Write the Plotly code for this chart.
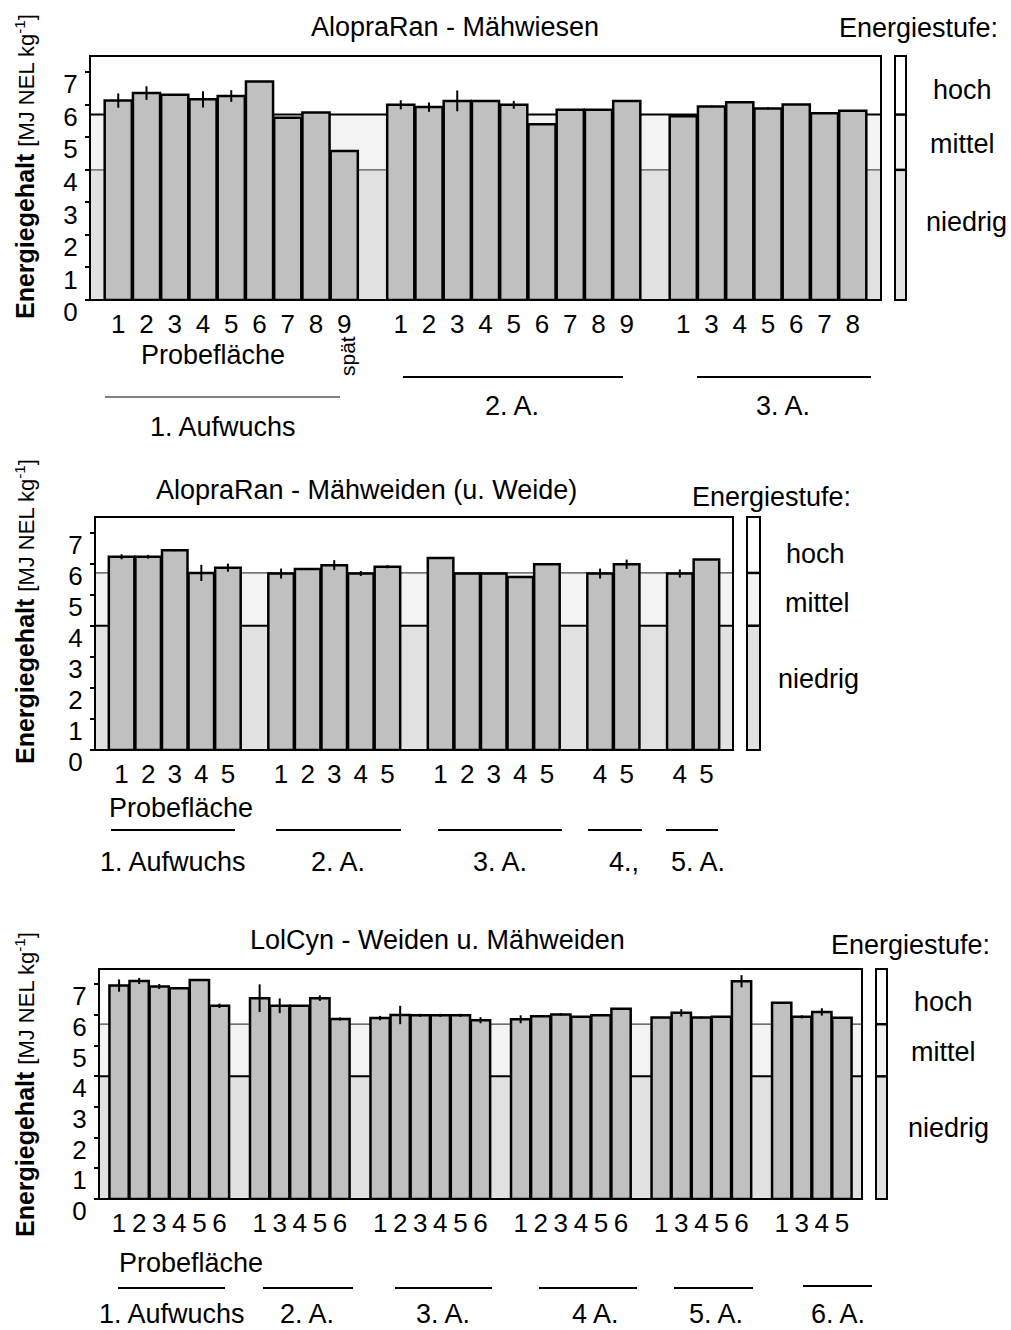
import plotly.graph_objects as go

# ---------------- data ----------------
Y_TICKS = [0, 1, 2, 3, 4, 5, 6, 7]
Y_MAX = 7.5
LEVEL_LOW = 4.0     # niedrig / mittel
LEVEL_HIGH = 5.7    # mittel / hoch

P1_TITLE = "AlopraRan - Mähwiesen"
P1_LABELS = [
    ["1", "2", "3", "4", "5", "6", "7", "8", "9"],
    ["1", "2", "3", "4", "5", "6", "7", "8", "9"],
    ["1", "3", "4", "5", "6", "7", "8"],
]
P1_VALUES = [
    [6.13, 6.36, 6.31, 6.17, 6.27, 6.72, 5.60, 5.76, 4.58],
    [6.00, 5.93, 6.12, 6.12, 6.00, 5.40, 5.85, 5.85, 6.12],
    [5.65, 5.95, 6.08, 5.89, 6.01, 5.74, 5.82],
]
P1_ERRORS = [
    [0.22, 0.21, 0.0, 0.25, 0.18, 0.0, 0.0, 0.0, 0.0],
    [0.14, 0.14, 0.32, 0.0, 0.12, 0.0, 0.0, 0.0, 0.0],
    [0.0, 0.03, 0.02, 0.04, 0.0, 0.0, 0.0],
]

P2_TITLE = "AlopraRan - Mähweiden (u. Weide)"
P2_LABELS = [
    ["1", "2", "3", "4", "5"],
    ["1", "2", "3", "4", "5"],
    ["1", "2", "3", "4", "5"],
    ["4", "5"],
    ["4", "5"],
]
P2_VALUES = [
    [6.22, 6.22, 6.43, 5.70, 5.87],
    [5.68, 5.83, 5.95, 5.68, 5.90],
    [6.18, 5.68, 5.68, 5.57, 5.98],
    [5.68, 5.98],
    [5.68, 6.13],
]
P2_ERRORS = [
    [0.08, 0.06, 0.03, 0.26, 0.13],
    [0.16, 0.0, 0.16, 0.08, 0.05],
    [0.0, 0.0, 0.0, 0.0, 0.0],
    [0.16, 0.15],
    [0.13, 0.0],
]

P3_TITLE = "LolCyn - Weiden u. Mähweiden"
P3_LABELS = [
    ["1", "2", "3", "4", "5", "6"],
    ["1", "3", "4", "5", "6"],
    ["1", "2", "3", "4", "5", "6"],
    ["1", "2", "3", "4", "5", "6"],
    ["1", "3", "4", "5", "6"],
    ["1", "3", "4", "5"],
]
P3_VALUES = [
    [6.96, 7.11, 6.93, 6.87, 7.14, 6.30],
    [6.55, 6.30, 6.30, 6.55, 5.87],
    [5.90, 6.00, 5.99, 5.99, 5.99, 5.83],
    [5.86, 5.96, 6.02, 5.94, 5.99, 6.20],
    [5.92, 6.07, 5.92, 5.94, 7.10],
    [6.40, 5.94, 6.10, 5.91],
]
P3_ERRORS = [
    [0.20, 0.10, 0.08, 0.0, 0.0, 0.07],
    [0.45, 0.24, 0.0, 0.09, 0.05],
    [0.07, 0.30, 0.05, 0.05, 0.05, 0.10],
    [0.13, 0.0, 0.04, 0.0, 0.0, 0.0],
    [0.0, 0.12, 0.03, 0.0, 0.20],
    [0.0, 0.05, 0.12, 0.0],
]

LEVEL_NAMES = ["hoch", "mittel", "niedrig"]
LEGEND_TITLE = "Energiestufe:"
Y_TITLE = "<b>Energiegehalt</b> <span style='font-size:22px'>[MJ NEL kg<sup>-1</sup>]</span>"

# ---------------- layout helpers ----------------
W, H = 1011, 1330
FONT = "Liberation Sans, Arial, sans-serif"
FS = 26      # tick labels
FT = 27      # annotation texts


def px(x):
    return x / W


def py(y):
    return 1 - y / H


def positions(groups):
    xs, idx = [], 0
    for g in groups:
        for _ in g:
            xs.append(idx)
            idx += 1
        idx += 1
    return xs


def flat(groups):
    return [v for g in groups for v in g]


PANELS = [
    dict(labels=P1_LABELS, values=P1_VALUES, errors=P1_ERRORS, title=P1_TITLE,
         box=(90, 881, 56, 300), legbar=(895, 906),
         title_pos=(455, 27), leg_title=(918, 28),
         leg_text=[(962, 90), (962, 144), (966, 222)],
         ytitle=(25, 167), line_low=(1.2, "#555"), line_high=(2, "black"),
         extra_text=[("Probefläche", 213, 355, 0, FT), ("spät", 347, 356, -90, 21),
                     ("1. Aufwuchs", 223, 427, 0, FT), ("2. A.", 512, 406, 0, FT),
                     ("3. A.", 783, 406, 0, FT)],
         bottom_text=[],
         brackets=[(105, 340, 397, 1.2), (403, 623, 377, 2), (697, 871, 377, 2)]),
    dict(labels=P2_LABELS, values=P2_VALUES, errors=P2_ERRORS, title=P2_TITLE,
         box=(95, 733, 517, 750), legbar=(747, 760),
         title_pos=(366, 490), leg_title=(771, 497),
         leg_text=[(815, 554), (817, 603), (818, 679)],
         ytitle=(25, 612), line_low=(2, "black"), line_high=(1.2, "#444"),
         extra_text=[("Probefläche", 181, 808, 0, FT), ("1. Aufwuchs", 173, 862, 0, FT),
                     ("2. A.", 338, 862, 0, FT), ("3. A.", 500, 862, 0, FT),
                     ("4.,", 624, 862, 0, FT), ("5. A.", 698, 862, 0, FT)],
         bottom_text=[],
         brackets=[(111, 235, 830, 2), (276, 401, 830, 2), (438, 562, 830, 2),
                   (588, 642, 830, 2), (666, 718, 830, 2)]),
    dict(labels=P3_LABELS, values=P3_VALUES, errors=P3_ERRORS, title=P3_TITLE,
         box=(99, 862, 969, 1199), legbar=(876, 887),
         title_pos=(437, 940), leg_title=(910, 945),
         leg_text=[(943, 1002), (943, 1052), (948, 1128)],
         ytitle=(25, 1085), line_low=(2, "black"), line_high=(1.2, "#444"),
         extra_text=[("Probefläche", 191, 1263, 0, FT)],
         bottom_text=[("1. Aufwuchs", 172), ("2. A.", 307), ("3. A.", 443),
                      ("4 A.", 595), ("5. A.", 716), ("6. A.", 838)],
         brackets=[(118, 225, 1288, 2), (263, 353, 1288, 2), (395, 492, 1288, 2),
                   (539, 637, 1288, 2), (674, 753, 1288, 2), (803, 872, 1286, 2)]),
]

fig = go.Figure()
layout = dict(
    width=W, height=H, autosize=False,
    margin=dict(l=0, r=0, t=0, b=0, pad=0, autoexpand=False),
    paper_bgcolor="white", plot_bgcolor="white",
    font=dict(family=FONT, size=FS, color="black"),
    bargap=0.04, showlegend=False,
)
shapes, annotations = [], []

for i, p in enumerate(PANELS, start=1):
    sfx = "" if i == 1 else str(i)
    xs = positions(p["labels"])
    fig.add_trace(go.Bar(
        x=xs, y=flat(p["values"]),
        xaxis="x" + sfx, yaxis="y" + sfx,
        marker=dict(color="#c0c0c0", line=dict(color="black", width=2.5)),
        error_y=dict(type="data", array=flat(p["errors"]), visible=True,
                     color="black", thickness=2, width=0),
        hoverinfo="skip",
    ))
    x0, x1, y0, y1 = p["box"]
    layout["xaxis" + sfx] = dict(
        domain=[px(x0), px(x1)], anchor="y" + sfx, automargin=False,
        range=[-1, xs[-1] + 1], tickmode="array", tickvals=xs,
        ticktext=flat(p["labels"]), ticks="", showgrid=False, zeroline=False,
        showline=False, tickfont=dict(size=FS), ticklabelstandoff=6,
        tickangle=0, fixedrange=True,
    )
    layout["yaxis" + sfx] = dict(
        domain=[py(y1), py(y0)], anchor="x" + sfx, automargin=False,
        range=[0, Y_MAX], tickmode="array", tickvals=Y_TICKS,
        ticks="outside", ticklen=4, tickwidth=2, tickcolor="black",
        showgrid=False, zeroline=False, showline=False,
        tickfont=dict(size=FS), ticklabelshift=12, ticklabelstandoff=2,
        fixedrange=True,
    )
    xd, yr = "x" + sfx + " domain", "y" + sfx
    # background bands
    shapes += [
        dict(type="rect", xref=xd, yref=yr, x0=0, x1=1, y0=0, y1=LEVEL_LOW,
             fillcolor="#e1e1e1", line=dict(width=0), layer="below"),
        dict(type="rect", xref=xd, yref=yr, x0=0, x1=1, y0=LEVEL_LOW, y1=LEVEL_HIGH,
             fillcolor="#f3f3f3", line=dict(width=0), layer="below"),
        dict(type="line", xref=xd, yref=yr, x0=0, x1=1, y0=LEVEL_LOW, y1=LEVEL_LOW,
             line=dict(color=p["line_low"][1], width=p["line_low"][0]), layer="below"),
        dict(type="line", xref=xd, yref=yr, x0=0, x1=1, y0=LEVEL_HIGH, y1=LEVEL_HIGH,
             line=dict(color=p["line_high"][1], width=p["line_high"][0]), layer="below"),
        dict(type="rect", xref=xd, yref=yr + " domain", x0=0, x1=1, y0=0, y1=1,
             line=dict(color="black", width=2), fillcolor="rgba(0,0,0,0)", layer="above"),
    ]
    # legend bar
    lx0, lx1 = px(p["legbar"][0]), px(p["legbar"][1])
    shapes += [
        dict(type="rect", xref="paper", yref=yr, x0=lx0, x1=lx1, y0=0, y1=LEVEL_LOW,
             fillcolor="#e1e1e1", line=dict(width=0)),
        dict(type="rect", xref="paper", yref=yr, x0=lx0, x1=lx1, y0=LEVEL_LOW, y1=LEVEL_HIGH,
             fillcolor="#f3f3f3", line=dict(width=0)),
        dict(type="line", xref="paper", yref=yr, x0=lx0, x1=lx1, y0=LEVEL_LOW, y1=LEVEL_LOW,
             line=dict(color="black", width=2.5)),
        dict(type="line", xref="paper", yref=yr, x0=lx0, x1=lx1, y0=LEVEL_HIGH, y1=LEVEL_HIGH,
             line=dict(color="black", width=2.5)),
        dict(type="rect", xref="paper", yref=yr + " domain", x0=lx0, x1=lx1, y0=0, y1=1,
             line=dict(color="black", width=2), fillcolor="rgba(0,0,0,0)"),
    ]
    # texts
    annotations.append(dict(text=p["title"], x=px(p["title_pos"][0]), y=py(p["title_pos"][1]),
                            xref="paper", yref="paper", showarrow=False,
                            xanchor="center", yanchor="middle", font=dict(size=FT)))
    annotations.append(dict(text=LEGEND_TITLE, x=px(p["leg_title"][0]), y=py(p["leg_title"][1]),
                            xref="paper", yref="paper", showarrow=False,
                            xanchor="center", yanchor="middle", font=dict(size=FT)))
    for name, (tx, ty) in zip(LEVEL_NAMES, p["leg_text"]):
        annotations.append(dict(text=name, x=px(tx), y=py(ty), xref="paper", yref="paper",
                                showarrow=False, xanchor="center", yanchor="middle",
                                font=dict(size=FT)))
    annotations.append(dict(text=Y_TITLE, x=px(p["ytitle"][0]), y=py(p["ytitle"][1]),
                            xref="paper", yref="paper", showarrow=False, textangle=-90,
                            xanchor="center", yanchor="middle", font=dict(size=25)))
    for txt, tx, ty, ang, fs in p["extra_text"]:
        annotations.append(dict(text=txt, x=px(tx), y=py(ty), xref="paper", yref="paper",
                                showarrow=False, textangle=ang, xanchor="center",
                                yanchor="middle", font=dict(size=fs)))
    for txt, tx in p["bottom_text"]:
        annotations.append(dict(text=txt, x=px(tx), y=0, xref="paper", yref="paper",
                                showarrow=False, xanchor="center", yanchor="bottom",
                                borderpad=0, font=dict(size=FT)))
    for bx0, bx1, by, bw in p["brackets"]:
        shapes.append(dict(type="line", xref="paper", yref="paper", x0=px(bx0), x1=px(bx1),
                           y0=py(by), y1=py(by), line=dict(color="black", width=bw)))

layout["shapes"] = shapes
layout["annotations"] = annotations
fig.update_layout(**layout)
fig.write_html("out.html")
